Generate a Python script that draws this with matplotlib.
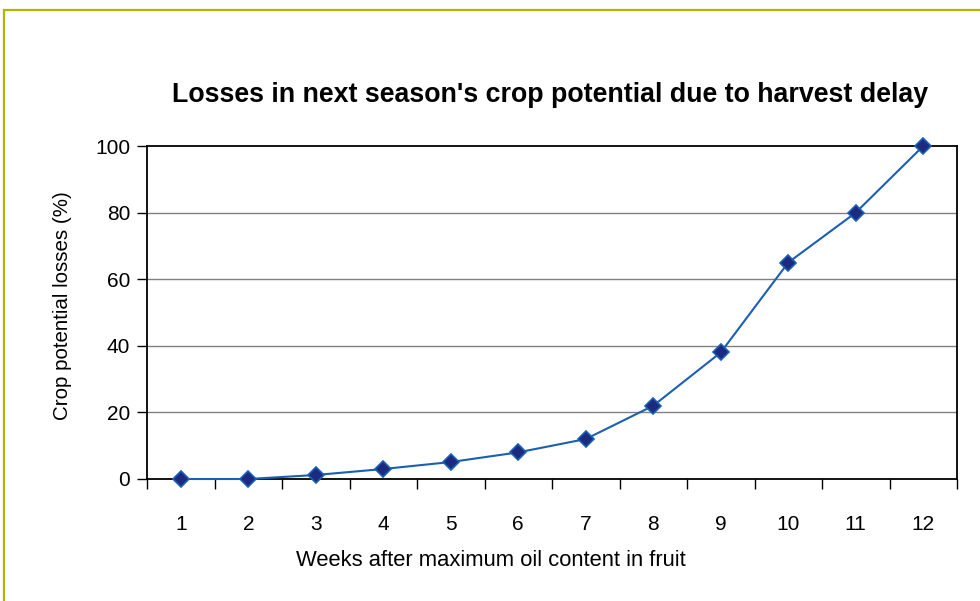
import matplotlib
matplotlib.use("Agg")
import matplotlib.pyplot as plt
from matplotlib.patches import Rectangle

weeks = [1, 2, 3, 4, 5, 6, 7, 8, 9, 10, 11, 12]
losses = [0, 0, 1.2, 3, 5.1, 8, 12, 22, 38, 65, 80, 100]
yticks = [0, 20, 40, 60, 80, 100]

plt.rcParams['font.family'] = ['Liberation Sans', 'DejaVu Sans']

W, H = 980, 601
fig = plt.figure(figsize=(W / 100, H / 100), dpi=100)
fig.patch.set_facecolor('white')

# outer border (olive), extends beyond right/bottom edges
fig.patches.append(Rectangle((3.5 / W, -0.1), 1.2, (H - 9.5) / H + 0.1,
                             transform=fig.transFigure, fill=False,
                             edgecolor='#b4b400', linewidth=1.6))

left, right, top, bottom = 147, 957, 146, 479
ax = fig.add_axes([left / W, 1 - bottom / H, (right - left) / W, (bottom - top) / H])

ax.plot(weeks, losses, color='#1a5fb4', linewidth=1.5, marker='D', markersize=8,
        markerfacecolor='#1c2a80', markeredgecolor='#1a5fb4', markeredgewidth=1.2,
        zorder=3, clip_on=False)

ax.set_xlim(0.5, 12.5)
ax.set_ylim(0, 100)
ax.set_yticks(yticks)
ax.set_xticks(weeks)
ax.set_xticklabels([str(w) for w in weeks])
# ticks at bin boundaries
ax.set_xticks([w + 0.5 for w in [0] + weeks], minor=True)
ax.tick_params(axis='x', which='major', length=0, pad=26, labelsize=15)
ax.tick_params(axis='x', which='minor', length=7, width=1, direction='out', color='black')
ax.tick_params(axis='y', which='major', length=7, width=1, direction='out', pad=5, labelsize=15)

for y in yticks[1:-1]:
    ax.axhline(y, color='#808080', linewidth=1, zorder=1)

for s in ax.spines.values():
    s.set_color('black')
    s.set_linewidth(1.3)

fig.text(491 / W, 1 - 560 / H, 'Weeks after maximum oil content in fruit',
         ha='center', va='center', fontsize=15.8)
fig.text(62 / W, 1 - 306 / H, 'Crop potential losses (%)',
         ha='center', va='center', fontsize=14.8, rotation=90)

fig.text(550 / W, 1 - 95 / H, "Losses in next season's crop potential due to harvest delay",
         ha='center', va='center', fontsize=19.3, fontweight='bold')

fig.savefig('out.png', dpi=100)
